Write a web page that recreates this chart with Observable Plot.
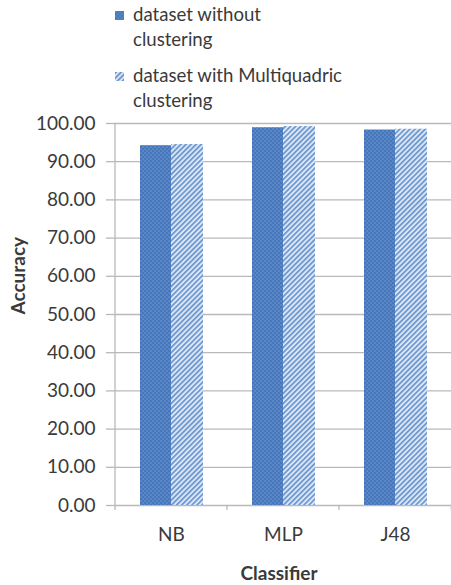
<!DOCTYPE html>
<html>
<head>
<meta charset="utf-8">
<script src="https://cdn.jsdelivr.net/npm/d3@7"></script>
<script src="https://cdn.jsdelivr.net/npm/@observablehq/plot@0.6"></script>
<style>
  html, body { margin: 0; padding: 0; background: #ffffff; }
  body { width: 451px; height: 585px; overflow: hidden; font-family: Lato, "Open Sans", sans-serif; color: #3a3a3a; }
  #legend { position: relative; width: 451px; height: 100px; font-size: 18.6px; line-height: 25px; }
  .entry { position: absolute; left: 133px; }
  .swatch { position: absolute; left: 115px; width: 9px; height: 9px; }
  #chart svg { display: block; }
</style>
</head>
<body>
<!-- fill patterns shared by the bars and the legend swatches -->
<svg width="0" height="0" style="position:absolute">
  <defs>
    <pattern id="dots" patternUnits="userSpaceOnUse" width="4" height="4">
      <rect width="4" height="4" fill="#4777bb"></rect>
      <rect x="0.5" y="0.5" width="1.2" height="1.2" fill="#7aa2d6"></rect>
      <rect x="2.5" y="2.5" width="1.2" height="1.2" fill="#7aa2d6"></rect>
    </pattern>
    <pattern id="hatch" patternUnits="userSpaceOnUse" width="3.6" height="3.6" patternTransform="rotate(45)">
      <rect width="3.6" height="3.6" fill="#dce6f4"></rect>
      <rect x="0" y="0" width="1.7" height="3.6" fill="#6a96d0"></rect>
    </pattern>
  </defs>
</svg>

<div id="legend"></div>
<div id="chart"></div>

<script>
// Classifier accuracy with and without Multiquadric clustering
const classifiers = ["NB", "MLP", "J48"];
const withoutClustering = [94.2, 98.9, 98.3];
const withMultiquadric = [94.5, 99.2, 98.5];
const seriesNames = ["dataset without clustering", "dataset with Multiquadric clustering"];
const seriesLines = [["dataset without", "clustering"], ["dataset with Multiquadric", "clustering"]];
const seriesFills = ["url(#dots)", "url(#hatch)"];
const yTicks = [0, 10, 20, 30, 40, 50, 60, 70, 80, 90, 100];
const xTitle = "Classifier";
const yTitle = "Accuracy";

const gridColor = "#b9b9b9";
const textColor = "#3a3a3a";

const rowsWithout = classifiers.map((c, i) => ({classifier: c, series: seriesNames[0], value: withoutClustering[i]}));
const rowsWith = classifiers.map((c, i) => ({classifier: c, series: seriesNames[1], value: withMultiquadric[i]}));

// legend
const legend = d3.select("#legend");
const entryTops = [2, 63];
seriesLines.forEach((lines, i) => {
  legend.append("svg").attr("class", "swatch")
    .style("top", (entryTops[i] + 9) + "px")
    .append("rect").attr("width", 9).attr("height", 9).attr("fill", seriesFills[i]);
  legend.append("div").attr("class", "entry")
    .style("top", entryTops[i] + "px")
    .html(lines.join("<br>"));
});

// category boundary ticks and the vertical value axis line
function categoryTicks(index, scales, values, dims) {
  const {x, y} = scales;
  const step = (dims.width - dims.marginLeft - dims.marginRight) / classifiers.length;
  const edges = classifiers.map(c => x(c)).concat([x(classifiers[classifiers.length - 1]) + step]);
  const g = d3.create("svg:g").attr("stroke", gridColor).attr("stroke-width", 1.3);
  const y0 = y(0);
  g.append("line")
    .attr("x1", edges[0]).attr("x2", edges[0])
    .attr("y1", y(100)).attr("y2", y0 + 5);
  edges.slice(1).forEach(e => {
    g.append("line").attr("x1", e).attr("x2", e).attr("y1", y0).attr("y2", y0 + 5);
  });
  return g.node();
}

const chart = Plot.plot({
  width: 451,
  height: 485,
  marginLeft: 114,
  marginRight: 0,
  marginTop: 23,
  marginBottom: 80,
  style: {fontFamily: "Lato, 'Open Sans', sans-serif", fontSize: "19px", color: textColor, background: "#ffffff"},
  x: {domain: classifiers, padding: 0},
  y: {domain: [0, 100]},
  marks: [
    Plot.gridY(yTicks, {stroke: gridColor, strokeOpacity: 1, strokeWidth: 1.3}),
    Plot.axisY(yTicks, {
      tickFormat: d => d.toFixed(2),
      tickSize: 8, tickPadding: 11, stroke: gridColor, strokeWidth: 1.3,
      fontSize: 19, fill: textColor, label: null
    }),
    Plot.axisX({tickSize: 0, tickPadding: 22, fontSize: 19, fill: textColor, label: null}),
    Plot.barY(rowsWithout, {x: "classifier", y: "value", fill: seriesFills[0], insetLeft: 25, insetRight: 56}),
    Plot.barY(rowsWith, {x: "classifier", y: "value", fill: seriesFills[1], insetLeft: 56, insetRight: 24}),
    categoryTicks,
    Plot.text([xTitle], {frameAnchor: "bottom", dy: 68, dx: -4, lineAnchor: "middle", fontWeight: "bold", fontSize: 19, fill: textColor}),
    Plot.text([yTitle], {frameAnchor: "left", dx: -96, rotate: -90, lineAnchor: "middle", fontWeight: "bold", fontSize: 19, fill: textColor})
  ]
});

document.getElementById("chart").appendChild(chart);
</script>
</body>
</html>
